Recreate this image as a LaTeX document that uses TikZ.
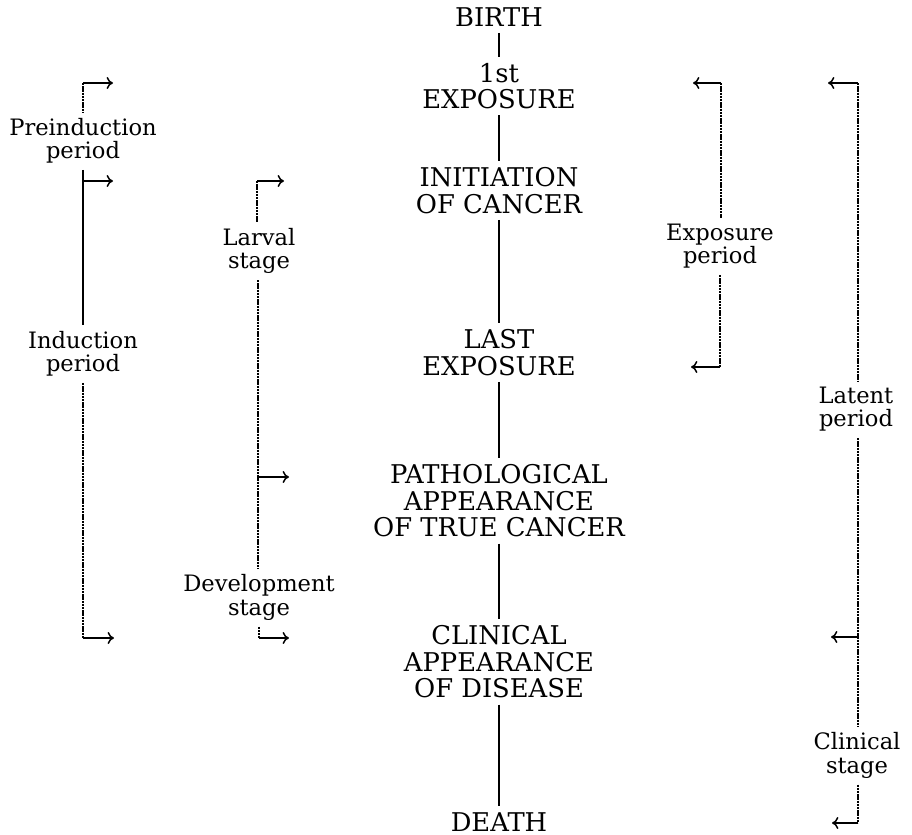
\documentclass[tikz,border=0pt]{standalone}
\usepackage{fontspec}
\setmainfont{DejaVu Serif}
\usetikzlibrary{arrows.meta}
\begin{document}
\begin{tikzpicture}[x=0.5pt,y=-0.5pt,
  stagebox/.style={align=center,inner sep=3pt,font=\fontsize{12.9}{13.2}\selectfont},
  sidelabel/.style={align=center,inner sep=3pt,font=\fontsize{11.3}{11.6}\selectfont},
  axisline/.style={line width=0.8pt},
  bracketline/.style={line width=0.75pt,dash pattern=on 1.2pt off 0.4pt},
  solidbracket/.style={line width=0.8pt},
  pointer/.style={line width=0.75pt,-{To[length=3.2pt,width=6pt]}}]
\useasboundingbox (0,0) rectangle (912,835);
% central stages
\node[stagebox] (birth) at (499,17) {BIRTH};
\node[stagebox] (first) at (499,86) {1st\\EXPOSURE};
\node[stagebox] (init) at (499,190.5) {INITIATION\\OF CANCER};
\node[stagebox] (last) at (499,352.5) {LAST\\EXPOSURE};
\node[stagebox] (path) at (499,501) {PATHOLOGICAL\\APPEARANCE\\OF TRUE CANCER};
\node[stagebox] (clin) at (499,662) {CLINICAL\\APPEARANCE\\OF DISEASE};
\node[stagebox] (death) at (499,822) {DEATH};
\draw[axisline] (birth) -- (first);
\draw[axisline] (first) -- (init);
\draw[axisline] (init) -- (last);
\draw[axisline] (last) -- (path);
\draw[axisline] (path) -- (clin);
\draw[axisline] (clin) -- (death);
% side labels
\node[sidelabel] (preind) at (83,141) {Preinduction\\period};
\node[sidelabel] (induct) at (83,354) {Induction\\period};
\node[sidelabel] (larval) at (259,251) {Larval\\stage};
\node[sidelabel] (devel) at (259,597.5) {Development\\stage};
\node[sidelabel] (expo) at (720,246.5) {Exposure\\period};
\node[sidelabel] (latent) at (856,409.5) {Latent\\period};
\node[sidelabel] (clinst) at (857,755.5) {Clinical\\stage};
% bracket points
\coordinate (a1) at (83,83);
\coordinate (a2) at (83,181);
\coordinate (a3) at (83,638);
\coordinate (a1e) at (113,83);
\coordinate (a2e) at (113,181);
\coordinate (a3e) at (114,638);
\coordinate (b1) at (257,181);
\coordinate (b2) at (258,477);
\coordinate (b3) at (259,638);
\coordinate (b1e) at (284,181);
\coordinate (b2e) at (289,477);
\coordinate (b3e) at (289,638);
\coordinate (c1) at (721,83);
\coordinate (c2) at (720,367);
\coordinate (c1e) at (693,83);
\coordinate (c2e) at (691,367);
\coordinate (d1) at (858,83);
\coordinate (d2) at (858,637);
\coordinate (d3) at (858,823);
\coordinate (d1e) at (828,83);
\coordinate (d2e) at (831,637);
\coordinate (d3e) at (832,823);
% left brackets
\draw[bracketline] (a1) -- (preind.north -| a1);
\draw[solidbracket] (preind.south -| a1) -- (induct.north -| a1);
\draw[bracketline] (induct.south -| a3) -- (a3);
\draw[pointer] (a1) -- (a1e);
\draw[pointer] (a2) -- (a2e);
\draw[pointer] (a3) -- (a3e);
% larval / development
\draw[bracketline] (b1) -- (larval.north -| b1);
\draw[bracketline] (larval.south -| b2) -- (devel.north -| b2);
\draw[bracketline] (devel.south -| b3) -- (b3);
\draw[pointer] (b1) -- (b1e);
\draw[pointer] (b2) -- (b2e);
\draw[pointer] (b3) -- (b3e);
% exposure
\draw[bracketline] (c1) -- (expo.north -| c1);
\draw[bracketline] (expo.south -| c2) -- (c2);
\draw[pointer] (c1) -- (c1e);
\draw[pointer] (c2) -- (c2e);
% latent / clinical
\draw[bracketline] (d1) -- (latent.north -| d1);
\draw[bracketline] (latent.south -| d2) -- (clinst.north -| d2);
\draw[bracketline] (clinst.south -| d3) -- (d3);
\draw[pointer] (d1) -- (d1e);
\draw[pointer] (d2) -- (d2e);
\draw[pointer] (d3) -- (d3e);
\end{tikzpicture}
\end{document}
